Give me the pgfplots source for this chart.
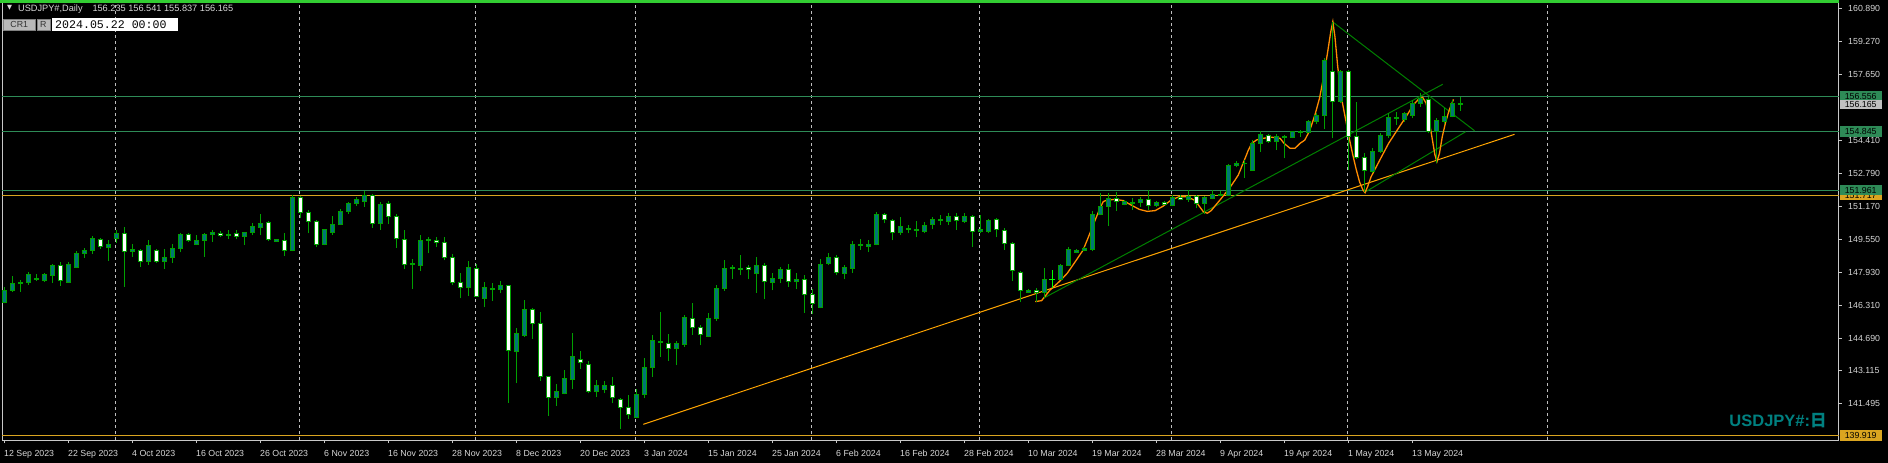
\documentclass[border=0pt]{standalone}
\usepackage{pgfplots}
\pgfplotsset{compat=1.18}
\usepackage{pgfplotstable}
\usepackage{fontspec}
\setmainfont{Liberation Sans}
\setmonofont{Liberation Mono}
\newfontfamily\cjk{Noto Sans CJK JP}
\newfontfamily\dejavu{DejaVu Sans}

\definecolor{framegray}{RGB}{200,200,200}
\definecolor{txtgray}{RGB}{215,215,215}
\definecolor{gridgray}{RGB}{190,190,190}
\definecolor{cgreen}{RGB}{0,160,0}
\definecolor{cteal}{RGB}{0,118,118}
\definecolor{hlgreen}{RGB}{46,139,87}
\definecolor{hlorange}{RGB}{218,165,32}
\definecolor{topgreen}{RGB}{50,205,50}
\definecolor{trgreen}{RGB}{0,128,0}
\definecolor{trorange}{RGB}{255,165,0}
\definecolor{zzorange}{RGB}{255,140,0}
\definecolor{dojilime}{RGB}{0,255,0}
\definecolor{lblgray}{RGB}{192,192,192}
\definecolor{btngray}{RGB}{185,185,185}
\definecolor{btntext}{RGB}{50,50,50}
\definecolor{symteal}{RGB}{0,128,128}

\def\yu{20.3704}
\newcommand{\lblfont}{\fontsize{8.8}{10}\selectfont}

\pgfdeclareplotmark{cup}{%
  \draw[draw=cgreen, line width=1pt] (0pt,{(\CandL-\CandO)*\yu*1pt}) -- (0pt,{(\CandH-\CandO)*\yu*1pt});
  \filldraw[draw=cgreen, fill=cteal, line width=1pt] (-2pt,0pt) rectangle (2pt,{(\CandC-\CandO)*\yu*1pt});
}
\pgfdeclareplotmark{cdn}{%
  \draw[draw=cgreen, line width=1pt] (0pt,{(\CandL-\CandO)*\yu*1pt}) -- (0pt,{(\CandH-\CandO)*\yu*1pt});
  \filldraw[draw=cgreen, fill=white, line width=1pt] (-2pt,0pt) rectangle (2pt,{(\CandC-\CandO)*\yu*1pt});
}
\pgfdeclareplotmark{cdoji}{%
  \draw[draw=dojilime, line width=1pt] (0pt,{(\CandL-\CandO)*\yu*1pt}) -- (0pt,{(\CandH-\CandO)*\yu*1pt});
  \draw[draw=dojilime, line width=1pt] (-3pt,0pt) -- (3pt,0pt);
}

\pgfplotstableread{
i o h l c
0 146.44 147.23 146.41 147.06
1 147.03 147.75 146.98 147.39
2 147.37 147.55 146.98 147.44
3 147.44 147.94 147.31 147.83
4 147.57 147.83 147.52 147.65
5 147.54 147.91 147.47 147.83
6 147.77 148.34 147.42 148.27
8 147.45 148.44 147.42 148.32
9 148.17 148.98 148.14 148.86
10 148.85 149.14 148.65 149.01
11 149.01 149.71 148.83 149.60
13 149.14 149.52 148.50 149.30
14 149.58 150.01 149.35 149.84
16 148.96 149.32 148.70 149.07
18 148.47 149.52 148.30 149.25
20 148.47 149.09 148.11 148.66
21 148.65 149.32 148.40 149.11
22 149.09 149.84 148.91 149.79
24 149.30 149.74 149.27 149.50
25 149.50 149.86 148.70 149.79
26 149.78 150.01 149.42 149.89
28 149.74 150.01 149.58 149.81
30 149.69 149.92 149.27 149.89
31 149.89 150.33 149.74 150.19
32 150.14 150.79 149.76 150.33
34 149.45 149.58 149.43 149.55
36 149.01 151.71 148.96 151.61
40 149.30 150.07 149.25 150.04
41 149.89 150.69 149.78 150.28
42 150.28 151.02 150.24 150.92
43 150.92 151.40 150.78 151.32
44 151.32 151.61 151.20 151.51
45 151.41 151.90 151.15 151.71
47 150.33 151.37 150.02 151.27
51 148.30 148.58 147.13 148.37
52 148.27 149.74 147.98 149.50
53 149.47 149.65 148.86 149.52
58 147.19 148.47 146.77 148.17
60 146.65 147.44 146.21 147.19
61 147.09 147.39 146.54 147.14
62 147.09 147.52 146.90 147.29
64 144.03 145.18 142.48 144.93
65 144.82 146.57 144.77 146.11
69 141.79 142.45 141.38 142.09
70 141.99 143.13 141.94 142.72
71 142.66 144.95 142.20 143.80
74 142.09 142.64 141.83 142.38
75 142.17 142.59 141.99 142.38
79 140.79 142.18 140.76 141.94
80 141.94 143.71 141.74 143.26
81 143.26 144.84 142.81 144.59
82 144.49 145.96 143.76 144.54
84 144.20 144.57 143.36 144.44
85 144.39 145.83 144.28 145.72
88 144.79 145.92 144.74 145.67
89 145.67 147.29 145.56 147.14
90 147.14 148.52 147.03 148.12
91 148.11 148.29 147.62 148.16
92 148.09 148.76 147.78 148.14
94 147.88 148.66 146.93 148.26
96 147.44 147.88 147.04 147.63
97 147.63 148.17 147.39 148.08
99 147.49 147.88 147.09 147.58
102 146.21 148.60 146.16 148.32
103 148.37 148.86 148.27 148.66
105 147.88 148.27 147.58 148.19
106 148.11 149.45 147.91 149.30
107 149.24 149.55 149.03 149.30
108 149.20 149.50 148.91 149.30
109 149.30 150.89 149.25 150.78
112 149.89 150.63 149.78 150.19
113 150.04 150.24 149.84 150.09
114 149.99 150.43 149.65 150.04
115 149.94 150.38 149.84 150.24
116 150.28 150.63 150.04 150.53
117 150.48 150.76 150.25 150.53
118 150.43 150.83 150.25 150.68
120 150.43 150.86 150.37 150.68
122 149.92 150.73 149.84 150.04
123 149.92 150.53 149.84 150.48
128 146.95 147.09 146.90 147.04
130 146.95 148.12 146.65 147.58
132 147.58 148.34 147.54 148.27
133 148.27 149.16 148.22 149.06
134 148.91 149.06 148.86 149.01
135 149.01 149.16 148.96 149.11
136 149.06 150.92 148.96 150.78
137 150.78 151.81 150.73 151.17
138 151.17 151.81 150.20 151.56
140 151.27 151.48 151.22 151.41
141 151.32 151.56 150.99 151.37
142 151.37 151.61 151.15 151.51
144 151.22 151.41 151.12 151.37
146 151.22 151.71 151.17 151.61
148 151.51 151.95 151.38 151.66
150 151.32 151.66 150.78 151.61
151 151.56 151.95 151.51 151.76
152 151.71 151.90 151.66 151.76
153 151.71 153.25 151.66 153.15
154 153.15 153.39 153.08 153.25
155 153.27 153.44 152.57 153.29
156 152.95 154.43 152.92 154.26
157 154.26 154.87 153.85 154.70
159 154.36 154.70 153.93 154.62
160 154.57 154.67 153.52 154.62
161 154.56 154.87 154.52 154.83
162 154.77 154.90 154.59 154.83
163 154.78 155.41 154.75 155.34
164 155.33 155.73 155.19 155.64
165 155.64 158.43 154.95 158.35
167 156.32 157.86 156.23 157.81
171 152.87 154.02 152.79 153.85
172 153.85 154.75 153.80 154.67
173 154.64 155.73 154.51 155.54
174 155.46 155.82 155.16 155.51
175 155.44 155.82 155.33 155.73
176 155.64 156.39 155.49 156.23
177 156.21 156.75 156.06 156.44
179 154.85 155.49 153.31 155.37
180 155.31 155.98 155.21 155.60
181 155.57 156.39 155.54 156.23
}\bull

\pgfplotstableread{
i o h l c
7 148.27 148.44 147.27 147.54
12 149.55 149.60 149.09 149.20
15 149.84 150.14 147.22 148.96
17 149.01 149.09 148.21 148.47
19 149.01 149.09 148.40 148.47
23 149.79 149.84 149.42 149.50
27 149.84 149.97 149.65 149.74
29 149.84 150.01 149.55 149.71
33 150.38 150.43 149.45 149.55
35 149.50 149.86 148.73 149.01
37 151.61 151.66 150.58 150.87
38 150.87 150.97 149.84 150.43
39 150.43 150.48 149.16 149.30
46 151.71 151.76 150.12 150.33
48 151.32 151.43 150.28 150.68
49 150.68 150.79 149.14 149.60
50 149.55 150.01 148.08 148.32
54 149.50 149.68 149.16 149.40
55 149.40 149.65 148.52 148.66
56 148.66 148.81 147.29 147.44
57 147.44 147.88 146.65 147.19
59 148.12 148.32 146.70 146.75
63 147.27 147.31 141.53 144.10
66 146.11 146.16 144.66 145.43
67 145.43 145.98 142.61 142.81
68 142.81 142.86 140.89 141.79
72 143.66 144.07 143.20 143.51
73 143.41 143.58 141.99 142.09
76 142.38 142.81 141.50 141.79
77 141.69 141.78 140.22 141.30
78 141.30 141.89 140.74 140.96
83 144.44 144.88 143.59 144.20
86 145.67 146.41 144.85 145.23
87 145.23 145.36 144.34 144.88
93 148.17 148.27 147.58 148.08
95 148.26 148.37 146.60 147.49
98 148.08 148.32 147.22 147.49
100 147.58 147.80 145.95 146.85
101 146.85 147.09 145.87 146.41
104 148.66 148.76 147.78 147.93
110 150.78 150.83 150.33 150.53
111 150.48 150.53 149.50 149.89
119 150.68 150.83 150.01 150.48
121 150.68 150.73 149.19 149.94
124 150.53 150.58 149.65 150.04
125 149.99 150.09 149.03 149.35
126 149.35 149.40 147.52 148.03
127 147.93 147.98 146.46 147.04
129 147.04 147.14 146.46 146.95
139 151.56 151.86 150.94 151.41
143 151.51 151.95 150.97 151.22
145 151.37 151.41 151.22 151.27
147 151.61 151.71 151.46 151.51
149 151.66 151.71 151.07 151.32
158 154.64 154.70 154.29 154.36
166 157.81 160.23 154.51 156.32
168 157.81 157.86 152.95 154.59
169 154.59 156.31 153.48 153.57
170 153.57 153.77 151.89 152.94
178 156.42 156.55 154.75 154.85
182 156.235 156.541 155.837 156.165
}\bear

\pgfplotstableread{
i o h l c
131 147.58 148.04 147.14 147.58
}\doji

\begin{document}
\begin{tikzpicture}
\useasboundingbox (-2pt,-23pt) rectangle (1886pt,440pt);
\fill[black] (-2pt,-23pt) rectangle (1886pt,440pt);
\begin{axis}[
  at={(0pt,0pt)}, anchor=south west,
  scale only axis, width=1836.5pt, height=440pt,
  xmin=-0.25, xmax=229.31, ymin=139.6975, ymax=161.2975,
  clip=false,
  axis line style={draw=framegray, line width=1pt},
  tick style={draw=framegray, line width=1pt},
  tick align=outside, major tick length=3pt,
  xtick pos=left, ytick pos=right, yticklabel pos=right,
  xtick={0,8,...,176},
  xticklabels={12 Sep 2023,22 Sep 2023,4 Oct 2023,16 Oct 2023,26 Oct 2023,6 Nov 2023,16 Nov 2023,28 Nov 2023,8 Dec 2023,20 Dec 2023,3 Jan 2024,15 Jan 2024,25 Jan 2024,6 Feb 2024,16 Feb 2024,28 Feb 2024,10 Mar 2024,19 Mar 2024,28 Mar 2024,9 Apr 2024,19 Apr 2024,1 May 2024,13 May 2024},
  ytick={141.495,143.115,144.69,146.31,147.93,149.55,151.17,152.79,154.41,157.65,159.27,160.89},
  yticklabels={141.495,143.115,144.690,146.310,147.930,149.550,151.170,152.790,154.410,157.650,159.270,160.890},
  xticklabel style={anchor=base west, inner sep=0pt, text=txtgray, font=\lblfont, yshift=-13.5pt},
  yticklabel style={anchor=west, inner sep=0pt, text=txtgray, font=\lblfont, xshift=6.5pt},
]
% month grid
\addplot[gridgray, line width=1pt, dash pattern=on 3pt off 3pt, forget plot] coordinates {(13.91,139.6975) (13.91,161.2975)};
\addplot[gridgray, line width=1pt, dash pattern=on 3pt off 3pt, forget plot] coordinates {(36.91,139.6975) (36.91,161.2975)};
\addplot[gridgray, line width=1pt, dash pattern=on 3pt off 3pt, forget plot] coordinates {(58.91,139.6975) (58.91,161.2975)};
\addplot[gridgray, line width=1pt, dash pattern=on 3pt off 3pt, forget plot] coordinates {(78.91,139.6975) (78.91,161.2975)};
\addplot[gridgray, line width=1pt, dash pattern=on 3pt off 3pt, forget plot] coordinates {(100.91,139.6975) (100.91,161.2975)};
\addplot[gridgray, line width=1pt, dash pattern=on 3pt off 3pt, forget plot] coordinates {(121.91,139.6975) (121.91,161.2975)};
\addplot[gridgray, line width=1pt, dash pattern=on 3pt off 3pt, forget plot] coordinates {(145.91,139.6975) (145.91,161.2975)};
\addplot[gridgray, line width=1pt, dash pattern=on 3pt off 3pt, forget plot] coordinates {(167.91,139.6975) (167.91,161.2975)};
\addplot[gridgray, line width=1pt, dash pattern=on 3pt off 3pt, forget plot] coordinates {(192.93,139.6975) (192.93,161.2975)};

% candles
\addplot[only marks, mark=cup,
  visualization depends on={\thisrow{o}\as\CandO},
  visualization depends on={\thisrow{h}\as\CandH},
  visualization depends on={\thisrow{l}\as\CandL},
  visualization depends on={\thisrow{c}\as\CandC}] table[x=i,y=o]{\bull};
\addplot[only marks, mark=cdn,
  visualization depends on={\thisrow{o}\as\CandO},
  visualization depends on={\thisrow{h}\as\CandH},
  visualization depends on={\thisrow{l}\as\CandL},
  visualization depends on={\thisrow{c}\as\CandC}] table[x=i,y=o]{\bear};
\addplot[only marks, mark=cdoji,
  visualization depends on={\thisrow{o}\as\CandO},
  visualization depends on={\thisrow{h}\as\CandH},
  visualization depends on={\thisrow{l}\as\CandL},
  visualization depends on={\thisrow{c}\as\CandC}] table[x=i,y=o]{\doji};

% horizontal lines
\addplot[topgreen, line width=3.2pt] coordinates {(-0.5,161.219) (229.31,161.219)};
\addplot[hlgreen, line width=1pt] coordinates {(-0.25,156.556) (229.31,156.556)};
\addplot[hlgreen, line width=1pt] coordinates {(-0.25,154.845) (229.31,154.845)};
\addplot[hlgreen, line width=1pt] coordinates {(-0.25,151.961) (229.31,151.961)};
\addplot[hlorange, line width=1pt] coordinates {(-0.25,151.717) (229.31,151.717)};
\addplot[hlorange, line width=1pt] coordinates {(-0.25,139.919) (229.31,139.919)};

% trendlines
\addplot[trorange, line width=1pt] coordinates {(79.91,140.468) (188.81,154.704)};
\addplot[trgreen, line width=1pt] coordinates {(129.91,146.653) (179.83,157.159)};
\addplot[trgreen, line width=1pt] coordinates {(166.05,160.232) (183.81,154.881)};
\addplot[trgreen, line width=1pt] coordinates {(170.1,151.857) (182.7,154.832)};

% zigzag
\addplot[zzorange, line width=1.3pt] coordinates {
(128.9,146.49) (129.7,146.54) (130.75,147.06) (131.9,147.47) (132.9,147.88) (133.9,148.45)
(134.9,149.03) (135.9,150.01) (136.9,150.99) (137.4,151.40) (137.9,151.48) (138.9,151.51)
(139.9,151.45) (140.9,151.23) (141.9,151.02) (142.9,150.92) (143.9,150.96) (144.9,151.18)
(145.9,151.48) (146.9,151.64) (147.9,151.64) (148.9,151.45) (149.9,150.91) (150.4,150.83)
(150.9,150.96) (151.5,151.25) (152.0,151.48) (153.25,152.10) (153.875,152.46) (154.29,152.71)
(155.125,153.52) (155.54,153.93) (155.96,154.26) (156.58,154.43) (157.42,154.51) (158.46,154.56)
(159.5,154.51) (160.0,154.26) (160.75,154.02) (161.375,154.02) (162.0,154.26) (162.59,154.42)
(163.2,154.88) (163.86,155.65) (164.43,156.47) (164.96,157.53) (165.49,158.84) (165.84,159.74)
(166.1,160.23) (166.36,159.50) (166.71,158.03) (167.15,156.55) (167.59,155.65) (168.11,154.59)
(168.55,153.77) (168.99,153.03) (169.43,152.38) (169.86,151.97) (170.13,151.84) (170.44,152.13)
(170.88,152.62) (171.97,153.44) (173.07,154.26) (174.16,154.92) (175.26,155.57) (176.14,156.14)
(176.8,156.42) (177.33,156.52) (177.76,156.23) (178.2,155.24) (178.55,154.42) (178.86,153.69)
(179.11,153.36) (179.43,153.77) (179.78,154.59) (180.21,155.32) (180.65,155.90) (181.18,156.42)
};

% price labels
\node[fill=hlorange, text=black, minimum width=42pt, minimum height=10.5pt, inner sep=0pt, anchor=west, xshift=1pt, font=\lblfont] at (axis cs:229.31,151.717) {151.717};
\node[fill=hlgreen, text=black, minimum width=42pt, minimum height=10.5pt, inner sep=0pt, anchor=west, xshift=1pt, font=\lblfont] at (axis cs:229.31,151.961) {151.961};
\node[fill=hlgreen, text=black, minimum width=42pt, minimum height=10.5pt, inner sep=0pt, anchor=west, xshift=1pt, font=\lblfont] at (axis cs:229.31,154.845) {154.845};
\node[fill=hlgreen, text=black, minimum width=42pt, minimum height=10.5pt, inner sep=0pt, anchor=west, xshift=1pt, font=\lblfont] at (axis cs:229.31,156.556) {156.556};
\node[fill=lblgray, text=black, minimum width=42pt, minimum height=9.5pt, inner sep=0pt, anchor=west, xshift=1pt, font=\lblfont] at (axis cs:229.31,156.165) {156.165};
\node[fill=hlorange, text=black, minimum width=42pt, minimum height=10.5pt, inner sep=0pt, anchor=west, xshift=1pt, font=\lblfont] at (axis cs:229.31,139.919) {139.919};
\end{axis}

% header
\node[text=txtgray, font=\dejavu\fontsize{6.5}{7}\selectfont, inner sep=0pt] at (7.5pt,431.8pt) {▼};
\node[text=txtgray, font=\fontsize{9.2}{10}\selectfont, inner sep=0pt, anchor=base west] at (16pt,428.3pt) {USDJPY\#,Daily};
\node[text=txtgray, font=\fontsize{9.2}{10}\selectfont, inner sep=0pt, anchor=base west] at (90.3pt,428.3pt) {156.235 156.541 155.837 156.165};
\node[fill=btngray, draw=gray, text=btntext, minimum width=31.5pt, minimum height=11.5pt, inner sep=0pt, font=\lblfont] at (17.2pt,415.2pt) {CR1};
\node[fill=btngray, draw=gray, text=btntext, minimum width=13pt, minimum height=11.5pt, inner sep=0pt, font=\lblfont] at (41.4pt,415.2pt) {R};
\node[fill=white, minimum width=126.5pt, minimum height=12.7pt, inner sep=0pt] at (113pt,415.35pt) {};
\node[text=black, font=\ttfamily\fontsize{11.6}{12}\selectfont, inner sep=0pt, anchor=base west] at (53pt,411.7pt) {2024.05.22 00:00};

% symbol watermark
\node[text=symteal, inner sep=0pt, anchor=base east] at (1824.8pt,13.3pt) {\fontsize{16.5}{18}\selectfont\bfseries USDJPY\#:{\cjk\bfseries 日}};
\end{tikzpicture}
\end{document}
